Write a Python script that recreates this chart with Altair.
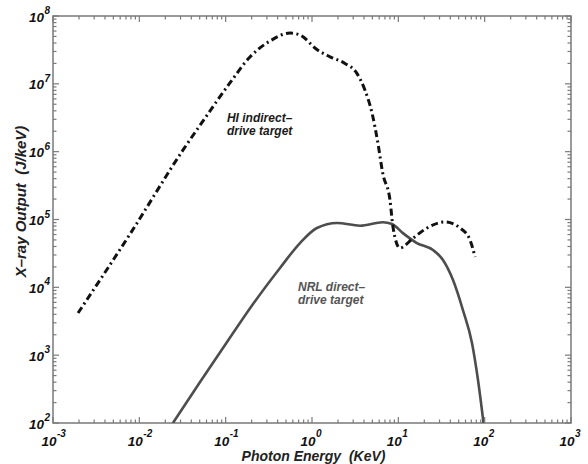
import altair as alt
import pandas as pd

# HI indirect-drive target spectrum (photon energy in keV, output in J/keV)
hi_energy = [0.00195, 0.0078, 0.0321, 0.0546, 0.112, 0.191, 0.326, 0.556, 0.726,
             1.14, 1.62, 2.41, 3.3, 4.1, 4.96, 5.8, 6.6, 8.0, 8.68, 10.4,
             14.8, 21.5, 34.7, 51.8, 67.6, 77.3]
hi_output = [4.18e3, 6.1e4, 1.06e6, 2.83e6, 1.03e7, 2.49e7, 4.28e7, 5.6e7, 5.25e7,
             3.2e7, 2.5e7, 2.0e7, 1.44e7, 8.1e6, 3.7e6, 1.34e6, 4.8e5, 1.94e5, 7.7e4, 3.8e4,
             5.3e4, 7.5e4, 9.2e4, 7.5e4, 5.0e4, 2.8e4]

# NRL direct-drive target spectrum
nrl_energy = [0.0245, 0.0505, 0.1037, 0.2075, 0.426, 0.726, 1.14, 1.95, 3.6,
              6.6, 8.45, 11.3, 16.4, 25.2, 32.9, 43.0, 56.0, 71.3, 83.7, 97.0]
nrl_output = [100, 402, 1563, 5680, 1.93e4, 4.5e4, 7.5e4, 8.9e4, 8.1e4,
              9.1e4, 8.6e4, 6.3e4, 4.5e4, 3.55e4, 2.53e4, 1.28e4, 4630, 1510, 430, 100]

# Curve annotations (anchored at their left edge / baseline, in data units)
hi_label_lines = ["HI indirect\u2013", "drive target"]
hi_label_x = [0.1035, 0.1035]
hi_label_y = [2.73e6, 1.76e6]
nrl_label_lines = ["NRL direct\u2013", "drive target"]
nrl_label_x = [0.689, 0.689]
nrl_label_y = [8.8e3, 5.7e3]

# Decades carrying a "10^n" label on each axis
x_decades = [-3, -2, -1, 0, 1, 2, 3]
y_decades = [2, 3, 4, 5, 6, 7, 8]

W, H = 518, 407
FRAME = "#7a7a7a"
FONT = "Liberation Sans"
INK = "#111111"

x_major = [10.0 ** d for d in x_decades]
x_minor = [k * 10.0 ** d for d in x_decades[:-1] for k in range(2, 10)]
y_major = [10.0 ** d for d in y_decades]
y_minor = [k * 10.0 ** d for d in y_decades[:-1] for k in range(2, 10)]

x_scale = alt.Scale(type="log", domain=[1e-3, 1e3], nice=False)
y_scale = alt.Scale(type="log", domain=[1e2, 1e8], nice=False)

X_TITLE = "Photon Energy\u00a0\u00a0(KeV)"
Y_TITLE = "X\u2013ray Output\u00a0\u00a0(J/keV)"

x_axis = alt.Axis(
    values=x_major, labels=False, ticks=False, domain=False, grid=False,
    title=X_TITLE, titleFont=FONT, titleFontSize=14,
    titleFontWeight="bold", titleFontStyle="italic", titleColor="#222",
    titleX=W / 2 + 1, titleY=33, titleAlign="center", titleBaseline="middle",
)
y_axis = alt.Axis(
    values=y_major, labels=False, ticks=False, domain=False, grid=False,
    title=Y_TITLE, titleFont=FONT, titleFontSize=15,
    titleFontWeight="bold", titleFontStyle="italic", titleColor="#222",
    titleX=-33, titleY=185, titleAlign="center", titleBaseline="middle", titleAngle=270,
)

X = lambda f: alt.X(f, type="quantitative", scale=x_scale, axis=x_axis, title=X_TITLE)
Y = lambda f: alt.Y(f, type="quantitative", scale=y_scale, axis=y_axis, title=Y_TITLE)

hi_df = pd.DataFrame({"energy": hi_energy, "output": hi_output})
nrl_df = pd.DataFrame({"energy": nrl_energy, "output": nrl_output})

nrl_line = alt.Chart(nrl_df).mark_line(
    color="#4d4d4d", strokeWidth=2.6, interpolate="monotone", clip=True
).encode(x=X("energy"), y=Y("output"))

hi_line = alt.Chart(hi_df).mark_line(
    color=INK, strokeWidth=3, strokeDash=[7, 3.5, 2, 3.5],
    interpolate="monotone", clip=True
).encode(x=X("energy"), y=Y("output"))

def label_layer(lines, xs, ys, color):
    df = pd.DataFrame({"t": lines, "x": xs, "y": ys})
    return alt.Chart(df).mark_text(
        align="left", baseline="alphabetic", font=FONT, fontSize=12,
        fontWeight="bold", fontStyle="italic", color=color
    ).encode(x=X("x"), y=Y("y"), text="t:N")

hi_text = label_layer(hi_label_lines, hi_label_x, hi_label_y, "#1a1a1a")
nrl_text = label_layer(nrl_label_lines, nrl_label_x, nrl_label_y, "#555555")

# Inward-pointing tick marks on all four sides of the frame
def x_ticks(vals, length):
    df = pd.DataFrame({"v": vals})
    base = alt.Chart(df).mark_rule(color=FRAME, strokeWidth=1.2)
    bottom = base.encode(x=X("v"), y=alt.value(H), y2=alt.value(H - length))
    top = base.encode(x=X("v"), y=alt.value(0), y2=alt.value(length))
    return [bottom, top]

def y_ticks(vals, length):
    df = pd.DataFrame({"v": vals})
    base = alt.Chart(df).mark_rule(color=FRAME, strokeWidth=1.2)
    left = base.encode(y=Y("v"), x=alt.value(0), x2=alt.value(length))
    right = base.encode(y=Y("v"), x=alt.value(W), x2=alt.value(W - length))
    return [left, right]

tick_layers = (x_ticks(x_major, 6) + x_ticks(x_minor, 3.5)
               + y_ticks(y_major, 6) + y_ticks(y_minor, 3.5))

# Decade labels drawn as "10" plus a raised exponent
label_style = dict(font=FONT, fontWeight="bold", fontStyle="italic", color=INK)

def decade_frame(decades):
    return pd.DataFrame({
        "v": [10.0 ** d for d in decades],
        "base": ["10"] * len(decades),
        "exp": [str(d) for d in decades],
    })

xl = alt.Chart(decade_frame(x_decades))
x_base = xl.mark_text(align="right", baseline="middle", fontSize=13.5, dx=3.5,
                      **label_style).encode(x=X("v"), y=alt.value(H + 19), text="base:N")
x_exp = xl.mark_text(align="left", baseline="middle", fontSize=10, dx=4,
                     **label_style).encode(x=X("v"), y=alt.value(H + 11), text="exp:N")

yl = alt.Chart(decade_frame(y_decades))
y_base = yl.mark_text(align="right", baseline="middle", fontSize=13.5, dy=1.5,
                      **label_style).encode(y=Y("v"), x=alt.value(-9), text="base:N")
y_exp = yl.mark_text(align="left", baseline="middle", fontSize=10, dx=0.5, dy=-5,
                     **label_style).encode(y=Y("v"), x=alt.value(-9), text="exp:N")

chart = alt.layer(
    nrl_line, hi_line, hi_text, nrl_text, *tick_layers,
    x_base, x_exp, y_base, y_exp
).properties(
    width=W, height=H,
    autosize=alt.AutoSizeParams(type="none"),
    padding={"left": 53, "top": 16, "right": 17, "bottom": 41},
    background="white",
).configure_view(
    stroke=FRAME, strokeWidth=1.5
)

chart.save("out.html", embed_options={"renderer": "svg", "actions": False})
